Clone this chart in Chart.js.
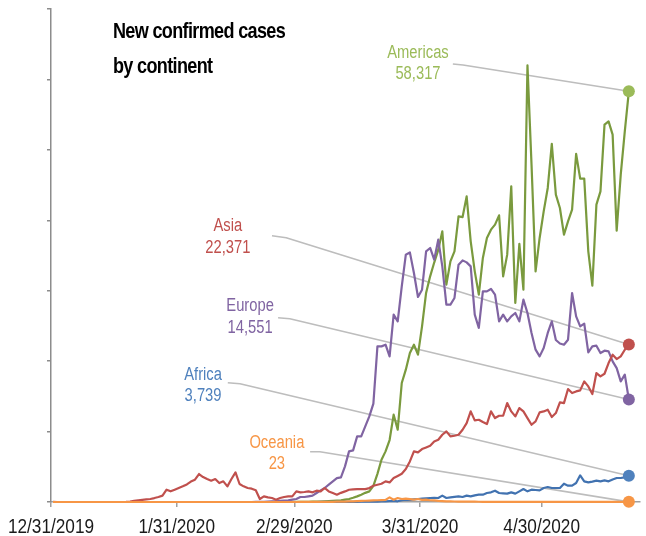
<!DOCTYPE html>
<html>
<head>
<meta charset="utf-8">
<script src="https://cdn.jsdelivr.net/npm/chart.js@4.4.1/dist/chart.umd.min.js"></script>
<style>
html, body { margin: 0; padding: 0; background: #ffffff; }
#wrap { width: 646px; height: 536px; position: relative; }
</style>
</head>
<body>
<div id="wrap"><canvas id="chart" width="646" height="536"></canvas></div>
<script>
// ---------- DATA (daily new confirmed cases, 12/31/2019 .. 5/21/2020) ----------
const startDate = '2019-12-31';
const continents = ['Africa', 'Americas', 'Asia', 'Europe', 'Oceania'];

const africa = [
  0,0,0,0,0,0,0,0,0,0,
  0,0,0,0,0,0,0,0,0,0,
  0,0,0,0,0,0,0,0,0,0,
  0,0,0,0,0,0,0,0,0,0,
  0,0,0,0,0,0,0,0,0,0,
  0,0,0,0,0,0,0,0,0,0,
  0,1,1,2,2,3,4,5,6,8,
  10,12,15,20,25,30,35,40,50,55,
  60,80,90,120,150,100,250,330,300,380,
  426,473,520,568,600,568,899,568,662,730,
  804,710,899,804,950,1041,1041,1277,1372,1608,
  1277,1230,1183,1372,1183,1514,1845,1514,1750,1700,
  1656,1987,2129,1987,1987,1987,2602,2318,2318,2696,
  3784,2933,2791,2900,3027,2933,3075,2933,3200,3406,
  3406,3500,3739
];

const americas = [
  0,0,0,0,0,0,0,0,0,0,
  0,0,0,0,0,0,0,0,0,0,
  0,1,0,0,1,0,0,0,0,0,
  0,0,0,0,0,0,0,0,0,0,
  0,0,0,0,0,0,0,0,0,0,
  0,0,0,0,0,1,2,3,5,6,
  10,15,20,30,40,50,70,90,120,160,
  200,230,330,426,600,800,1040,1300,1510,2300,
  4000,6000,7190,8800,12400,10270,16900,18790,21160,22340,
  20920,24940,29680,32040,34000,35800,38430,30860,34170,35590,
  40560,40460,43400,37010,32750,29440,34650,37490,38670,39380,
  40700,32040,35120,44820,28260,36640,30150,62000,47900,32750,
  37490,41270,44590,50840,43640,41750,37960,39850,41510,49420,
  45910,45910,35590,30720,42220,44110,53580,54050,52160,38530,
  46480,52630,58317
];

const asia = [
  27,0,0,0,0,0,0,0,0,0,
  0,0,0,0,0,0,0,0,10,50,
  150,250,300,360,426,560,710,900,1750,1514,
  1750,1987,2223,2500,2900,3170,3973,3548,3264,3027,
  3264,2696,2933,2223,3264,4210,2554,2223,1987,1892,
  1656,426,804,662,568,331,568,710,804,804,
  1514,1372,1419,1514,1372,1608,1514,1987,1505,1277,
  1037,1300,1505,1742,1800,1836,1836,1836,1978,2310,
  2450,2594,2925,2783,3399,3700,4014,4677,5765,7185,
  7043,7516,7750,7990,8605,8841,9551,10024,9314,9409,
  9551,10261,11207,12864,11586,11681,11349,11065,12864,11917,
  12249,12249,14047,12864,12154,13337,12864,11917,10971,11444,
  12722,12864,13101,12060,12628,14142,14047,16035,15467,15704,
  15846,17124,16414,15325,18307,17834,18212,19727,20910,20295,
  20674,21621,22371
];

const europe = [
  0,0,0,0,0,0,0,0,0,0,
  0,0,0,0,0,0,0,0,0,0,
  0,0,0,0,0,0,0,0,0,0,
  0,0,0,0,0,0,0,0,0,0,
  0,0,0,0,0,0,0,0,0,0,
  5,10,20,60,80,100,150,200,237,330,
  426,710,710,800,900,1277,1656,1987,2457,2933,
  3400,3500,5060,7190,7332,9315,9315,10735,12155,13959,
  22095,22095,22337,20675,26597,25645,30615,35117,35443,32518,
  29110,30147,35585,36068,34407,37247,33455,28017,28017,28968,
  33697,34307,34023,33455,26597,24708,29905,29905,30246,29437,
  25645,26597,25645,26355,26838,25645,28727,26838,23998,21627,
  20675,21868,23998,25645,23000,22500,22337,23047,29678,26355,
  24935,25319,21243,22095,22195,21158,21485,21385,19965,19014,
  17125,18077,14551
];

const oceania = [
  0,0,0,0,0,0,0,0,0,0,
  0,0,0,0,0,0,0,0,0,0,
  0,0,0,0,0,0,0,0,0,0,
  0,0,0,0,0,0,0,0,0,0,
  0,0,0,0,0,0,0,0,0,0,
  0,0,0,0,0,0,0,0,0,0,
  2,5,5,8,10,12,15,20,25,30,
  40,50,60,80,100,120,150,180,200,220,
  250,280,300,660,330,568,426,473,400,330,
  426,300,330,250,236,150,130,100,90,70,
  60,55,50,45,40,35,30,25,30,20,
  25,18,20,15,18,12,15,10,20,15,
  12,10,25,20,15,18,12,20,15,25,
  18,20,22,15,18,20,25,15,20,18,
  22,20,23
];

// x tick positions (days since 12/31/2019) and their labels
const tickDays = [0, 31, 60, 91, 121];
const tickLabels = ['12/31/2019', '1/31/2020', '2/29/2020', '3/31/2020', '4/30/2020'];
// y ticks (unlabelled)
const yMax = 70000;
const yStep = 10000;

// ---------- STYLE ----------
const lineColors = { Africa: '#4172b0', Americas: '#7a9a3e', Asia: '#c0504d', Europe: '#8064a2', Oceania: '#f79646' };
const dotColors  = { Africa: '#4f81bd', Americas: '#9bbb59', Asia: '#c0504d', Europe: '#8064a2', Oceania: '#f79646' };
const FONT = '"Liberation Sans", Arial, sans-serif';
const NARROW = 0.82;   // horizontal squeeze to imitate a narrow face

// annotation layout in data coordinates (day, value)
const labelLayout = {
  Americas: { tx: 90.5, nameV: 63800, numV: 60700, sx: 99.1, sv: 62200, kx: 101.6, kv: 62050 },
  Asia:     { tx: 43.6, nameV: 39230, numV: 36110, sx: 54.5, sv: 37810, kx: 58.0, kv: 37530 },
  Europe:   { tx: 49.1, nameV: 27830, numV: 24700, sx: 56.0, sv: 26170, kx: 58.9, kv: 26030 },
  Africa:   { tx: 37.5, nameV: 18080, numV: 15090, sx: 43.6, sv: 16940, kx: 46.6, kv: 16800 },
  Oceania:  { tx: 55.7, nameV: 8420,  numV: 5440,  sx: 63.9, sv: 7140,  kx: 66.3, kv: 7140 }
};

const seriesByName = { Africa: africa, Americas: americas, Asia: asia, Europe: europe, Oceania: oceania };
// drawing order: first dataset is drawn on top
const drawOrder = ['Oceania', 'Africa', 'Asia', 'Europe', 'Americas'];

function toPoints(arr) { return arr.map((v, i) => ({ x: i + 0.5, y: v })); }

const datasets = drawOrder.map(name => {
  const arr = seriesByName[name];
  return {
    label: name,
    data: toPoints(arr),
    borderColor: lineColors[name],
    backgroundColor: dotColors[name],
    borderWidth: 2.2,
    tension: 0,
    pointRadius: ctx => (ctx.dataIndex === arr.length - 1 ? 6 : 0),
    pointHoverRadius: ctx => (ctx.dataIndex === arr.length - 1 ? 6 : 0),
    pointBackgroundColor: dotColors[name],
    pointBorderWidth: 0,
    borderJoinStyle: 'round',
    clip: false
  };
});

function narrowText(ctx, text, x, y) {
  ctx.save();
  ctx.translate(x, y);
  ctx.scale(NARROW, 1);
  ctx.fillText(text, 0, 0);
  ctx.restore();
}

const annotPlugin = {
  id: 'annot',
  beforeDraw(chart) {
    // draw the x tick labels (from the scale's own ticks) with a narrow squeeze
    const sc = chart.scales.x;
    if (!sc.__narrow) {
      sc.__narrow = true;
      sc.drawLabels = function () {
        const ctx = this.ctx;
        ctx.save();
        ctx.font = '21px ' + FONT;
        ctx.fillStyle = this.options.ticks.color;
        ctx.textAlign = 'center';
        ctx.textBaseline = 'alphabetic';
        this.ticks.forEach(t => {
          narrowText(ctx, t.label, this.getPixelForValue(t.value), this.top + 31);
        });
        ctx.restore();
      };
    }
  },
  beforeDatasetsDraw(chart) {
    const { ctx, scales: { x, y } } = chart;
    ctx.save();
    ctx.strokeStyle = '#bdbdbd';
    ctx.lineWidth = 1.6;
    ctx.lineJoin = 'round';
    drawOrder.forEach((name, di) => {
      const L = labelLayout[name];
      const meta = chart.getDatasetMeta(di);
      const last = meta.data[meta.data.length - 1];
      ctx.beginPath();
      ctx.moveTo(x.getPixelForValue(L.sx), y.getPixelForValue(L.sv));
      ctx.lineTo(x.getPixelForValue(L.kx), y.getPixelForValue(L.kv));
      ctx.lineTo(last.x, last.y);
      ctx.stroke();
    });
    ctx.restore();
  },
  afterDraw(chart) {
    const { ctx, scales: { x, y } } = chart;
    ctx.save();
    ctx.textAlign = 'center';
    ctx.textBaseline = 'middle';
    ctx.font = '18px ' + FONT;
    drawOrder.forEach(name => {
      const L = labelLayout[name];
      const arr = seriesByName[name];
      const cx = x.getPixelForValue(L.tx);
      ctx.fillStyle = dotColors[name];
      narrowText(ctx, name, cx, y.getPixelForValue(L.nameV));
      narrowText(ctx, arr[arr.length - 1].toLocaleString('en-US'), cx, y.getPixelForValue(L.numV));
    });
    // title
    ctx.textAlign = 'left';
    ctx.fillStyle = '#000000';
    ctx.font = 'bold 22px ' + FONT;
    try { ctx.letterSpacing = '-0.8px'; } catch (e) {}
    narrowText(ctx, 'New confirmed cases', 113, 32);
    narrowText(ctx, 'by continent', 113, 67);
    ctx.restore();
  }
};

new Chart(document.getElementById('chart'), {
  type: 'line',
  data: { datasets },
  plugins: [annotPlugin],
  options: {
    responsive: false,
    animation: false,
    devicePixelRatio: 1,
    layout: { padding: { left: 47, right: 6, top: 9, bottom: 0 } },
    plugins: { legend: { display: false }, tooltip: { enabled: false } },
    scales: {
      x: {
        type: 'linear',
        min: 0,
        max: 145.25,
        afterBuildTicks: scale => { scale.ticks = tickDays.map(v => ({ value: v })); },
        afterFit: scale => { scale.paddingLeft = 0; scale.paddingRight = 0; scale.height = 34; },
        ticks: {
          autoSkip: false,
          maxRotation: 0,
          padding: 0,
          color: '#1a1a1a',
          font: { family: FONT, size: 21, lineHeight: 1.2 },
          callback: v => { const i = tickDays.indexOf(v); return i >= 0 ? tickLabels[i] : ''; }
        },
        grid: { display: true, drawOnChartArea: false, drawTicks: true, tickLength: 5, color: '#a0a0a0', lineWidth: 1.5 },
        border: { display: true, color: '#a0a0a0', width: 1.5 }
      },
      y: {
        type: 'linear',
        min: 0,
        max: yMax,
        afterFit: scale => { scale.width = 4; },
        ticks: { display: false, stepSize: yStep },
        grid: { display: true, drawOnChartArea: false, drawTicks: true, tickLength: 4, color: '#8c8c8c', lineWidth: 1.5 },
        border: { display: true, color: '#8c8c8c', width: 1.5 }
      }
    }
  }
});
</script>
</body>
</html>
